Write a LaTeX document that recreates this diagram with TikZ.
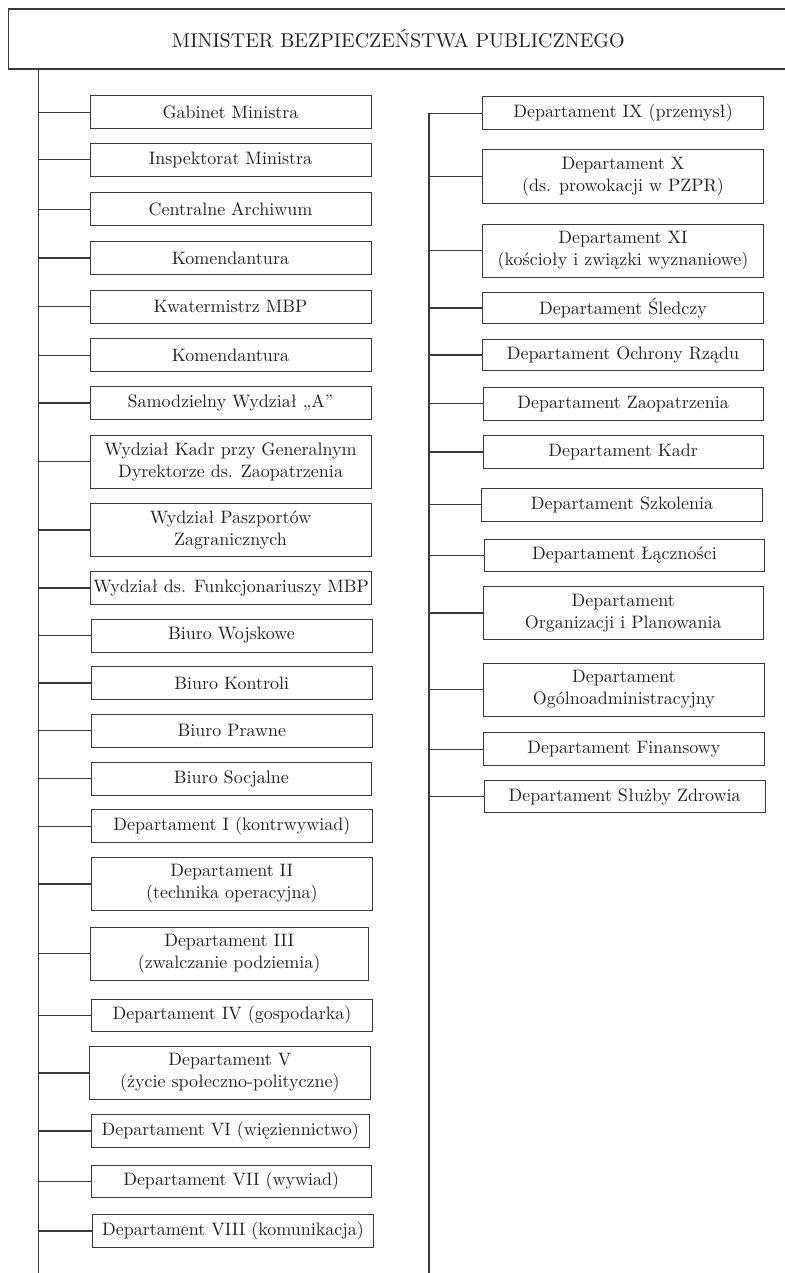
\documentclass[tikz,border=0pt]{standalone}
\usepackage{fontspec}
\setmainfont{lmroman10-regular}[Extension=.otf]
\definecolor{inkc}{HTML}{222222}
\definecolor{linec}{HTML}{3A3A3A}
\newcommand\orgbox[6]{%
  \node[ubox, minimum width={#3-#2}, minimum height={#5-#4}] (#1) at ({(#2+#3)/2},{(#4+#5)/2}) {#6};}
\begin{document}
\begin{tikzpicture}[x=1pt,y=-1pt,
  ubox/.style={draw=linec, line width=1pt, rectangle, inner sep=0pt, align=center,
    text=inkc, font=\fontsize{18}{22}\selectfont},
  conn/.style={draw=linec, line width=1.1pt},
  trunk/.style={draw=linec, line width=1.3pt}]
\useasboundingbox (0,0) rectangle (784,1273);
% title
\node[draw=linec, line width=1.1pt, rectangle, inner sep=0pt, text=inkc,
  minimum width=780pt, minimum height=60pt, font=\fontsize{20}{24}\selectfont]
  (top) at (398.3,39) {MINISTER BEZPIECZEŃSTWA PUBLICZNEGO};
% left column
\orgbox{l1}{90}{371}{95.7}{128.7}{Gabinet Ministra}
\orgbox{l2}{90}{371}{143.3}{176.3}{Inspektorat Ministra}
\orgbox{l3}{90}{371}{192.7}{225.7}{Centralne Archiwum}
\orgbox{l4}{90}{371}{241.7}{274.3}{Komendantura}
\orgbox{l5}{90}{371}{290}{323}{Kwatermistrz MBP}
\orgbox{l6}{90}{371}{338.7}{371.7}{Komendantura}
\orgbox{l7}{90}{371}{386.7}{419.3}{Samodzielny Wydział „A”}
\orgbox{l8}{90}{371}{435}{488.3}{Wydział Kadr przy Generalnym\\Dyrektorze ds. Zaopatrzenia}
\orgbox{l9}{90}{371}{503.3}{556.7}{Wydział Paszportów\\Zagranicznych}
\orgbox{l10}{90.7}{371.7}{571.7}{604.3}{Wydział ds. Funkcjonariuszy MBP}
\orgbox{l11}{91}{372}{619}{652}{Biuro Wojskowe}
\orgbox{l12}{91.5}{372}{666.7}{699.3}{Biuro Kontroli}
\orgbox{l13}{91.7}{372}{714.3}{747}{Biuro Prawne}
\orgbox{l14}{91}{371.7}{762}{795}{Biuro Socjalne}
\orgbox{l15}{91.7}{372}{809.7}{842.7}{Departament I (kontrwywiad)}
\orgbox{l16}{91.7}{372}{857.3}{910.7}{Departament II\\(technika operacyjna)}
\orgbox{l17}{90.3}{368}{927}{980.3}{Departament III\\(zwalczanie podziemia)}
\orgbox{l18}{91.7}{372.3}{999}{1031.7}{Departament IV (gospodarka)}
\orgbox{l19}{89.7}{370}{1046.3}{1099.7}{Departament V\\(życie społeczno-polityczne)}
\orgbox{l20}{91}{369.3}{1114.7}{1147.3}{Departament VI (więziennictwo)}
\orgbox{l21}{91}{371.3}{1165}{1197.7}{Departament VII (wywiad)}
\orgbox{l22}{92.7}{373.3}{1214.3}{1247.7}{Departament VIII (komunikacja)}
% right column
\orgbox{r1}{482.7}{763.3}{96.7}{130}{Departament IX (przemysł)}
\orgbox{r2}{482.7}{763.3}{150}{203.3}{Departament X\\(ds. prowokacji w PZPR)}
\orgbox{r3}{482.7}{763.3}{224.3}{277.3}{Departament XI\\(kościoły i związki wyznaniowe)}
\orgbox{r4}{482.7}{763.3}{292.7}{323.3}{Departament Śledczy}
\orgbox{r5}{482.7}{763.3}{339.3}{370.7}{Departament Ochrony Rządu}
\orgbox{r6}{483}{763.3}{387.3}{420.3}{Departament Zaopatrzenia}
\orgbox{r7}{483}{763.3}{435.7}{468.3}{Departament Kadr}
\orgbox{r8}{481.7}{762.3}{488}{521}{Departament Szkolenia}
\orgbox{r9}{484.3}{764.7}{539}{571.7}{Departament Łączności}
\orgbox{r10}{483.3}{763.3}{586.7}{639.3}{Departament\\Organizacji i Planowania}
\orgbox{r11}{483.7}{764}{663.3}{716}{Departament\\Ogólnoadministracyjny}
\orgbox{r12}{483.7}{764}{732.7}{765.7}{Departament Finansowy}
\orgbox{r13}{484.3}{765}{780.7}{812.7}{Departament Służby Zdrowia}
% trunks
\coordinate (ltop) at (38.5,69);
\coordinate (lbot) at (38.5,1273);
\coordinate (rtop) at (429,113.3);
\coordinate (rbot) at (429,1273);
\draw[trunk] (ltop) -- (lbot);
\draw[trunk] (rtop) -- (rbot);
% branches
\foreach \i in {1,...,22} { \draw[conn] (l\i.west) -- (l\i.west -| ltop); }
\foreach \i in {1,...,13} { \draw[conn] (r\i.west) -- (r\i.west -| rtop); }
\end{tikzpicture}
\end{document}
